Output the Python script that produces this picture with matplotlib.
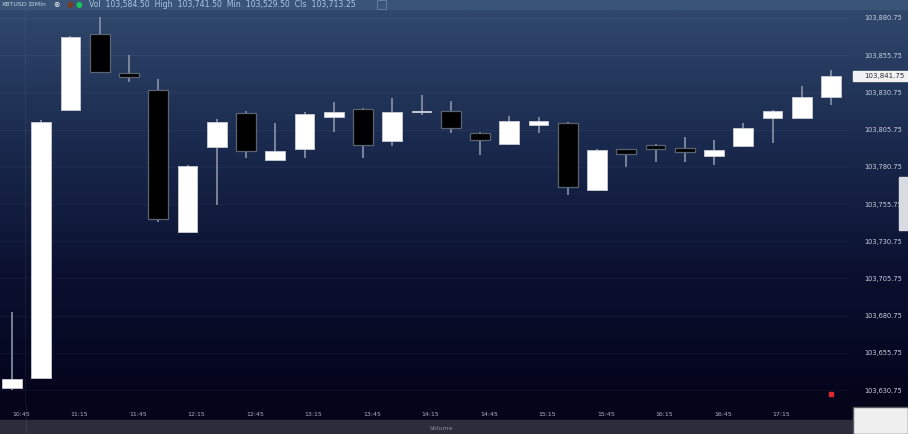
import numpy as np
import matplotlib.pyplot as plt
from matplotlib.colors import LinearSegmentedColormap
from matplotlib.patches import Rectangle

# 15 min candles
opens = [103632.00, 103638.75, 103819.00, 103870.00, 103843.75, 103832.50, 103737.00,
         103794.00, 103817.00, 103785.25, 103792.75, 103814.25, 103819.50, 103798.00,
         103817.50, 103818.25, 103803.50, 103796.00, 103808.75, 103810.25, 103765.25,
         103792.75, 103795.50, 103793.50, 103788.00, 103794.75, 103813.50, 103813.50,
         103827.75]
closes = [103638.25, 103811.00, 103868.00, 103844.50, 103841.00, 103745.75, 103781.25,
          103811.00, 103791.50, 103791.50, 103816.25, 103817.50, 103795.50, 103817.50,
          103817.75, 103806.75, 103798.75, 103811.50, 103811.50, 103767.25, 103792.00,
          103789.25, 103792.75, 103790.75, 103792.00, 103806.75, 103818.25, 103827.75,
          103841.75]
highs = [103683.25, 103812.25, 103868.75, 103881.50, 103856.00, 103839.75, 103782.00,
         103813.00, 103818.25, 103810.25, 103817.50, 103824.25, 103820.25, 103827.00,
         103829.00, 103825.00, 103804.25, 103815.00, 103814.25, 103811.00, 103792.75,
         103792.75, 103796.00, 103800.75, 103798.75, 103810.25, 103819.00, 103835.00,
         103845.75]
lows = [103630.75, 103638.75, 103818.25, 103843.75, 103837.75, 103743.75, 103736.25,
        103755.00, 103786.75, 103784.75, 103786.75, 103804.25, 103786.75, 103794.75,
        103815.50, 103803.50, 103788.75, 103795.50, 103803.50, 103761.75, 103764.50,
        103780.75, 103784.00, 103784.00, 103782.00, 103794.00, 103796.75, 103813.00,
        103822.25]

time_labels = ['10:45', '11:15', '11:45', '12:15', '12:45', '13:15', '13:45',
               '14:15', '14:45', '15:15', '15:45', '16:15', '16:45', '17:15']
price_ticks = [103880.75 - 25 * i for i in range(11)]
last_price = closes[-1]
alert_price = 103628.0

W, H = 908, 434
fig = plt.figure(figsize=(W / 100, H / 100), dpi=100)
fig.patch.set_facecolor('#05051a')

# background gradient behind everything
bg = fig.add_axes([0, (H - 405) / H, 1, 395 / H], zorder=0)
cmap = LinearSegmentedColormap.from_list('bg', ['#2f486c', '#1a2a4e', '#0b1030', '#04041a'])
bg.imshow(np.linspace(0, 1, 256).reshape(-1, 1), aspect='auto', cmap=cmap,
          extent=[0, 1, 0, 1])
bg.axis('off')

ax = fig.add_axes([0, (H - 405) / H, 848 / W, 395 / H], zorder=2)
ax.patch.set_alpha(0)

x = np.arange(len(opens))
o = np.array(opens)
c = np.array(closes)
up = c >= o
body_lo = np.minimum(o, c)
body_h = np.maximum(np.abs(c - o), 0.8)

ax.vlines(x, lows, highs, color='#8a93a8', linewidth=1.2, zorder=2)
ax.bar(x[up], body_h[up], bottom=body_lo[up], width=0.68, color='white',
       edgecolor='#c8ccd6', linewidth=0.6, zorder=3)
ax.bar(x[~up], body_h[~up], bottom=body_lo[~up], width=0.68, color='black',
       edgecolor='#5b6272', linewidth=0.9, zorder=3)
ax.plot([x[-1]], [alert_price], marker='s', markersize=2.5, color='#e0282c',
        linestyle='none', zorder=4)

ax.set_xlim(-0.41, 28.58)
ax.set_ylim(103620.7, 103886.1)
ax.set_yticks(price_ticks)
ax.set_yticklabels([f'{p:,.2f}' for p in price_ticks])
ax.yaxis.tick_right()
ax.tick_params(axis='y', length=0, pad=12, labelsize=4.8, labelcolor='#c9d0dc')
ax.set_xticks([])
ax.grid(axis='y', color='#ffffff', alpha=0.04, linewidth=0.8)
ax.axvline(0.45, color='#ffffff', alpha=0.06, linewidth=0.8)
for s in ax.spines.values():
    s.set_visible(False)

# time labels under the candles
for i, lab in enumerate(time_labels):
    xp = (12 + 2 * i * 29.25) / W
    fig.text(xp, 1 - 414 / H, lab, fontsize=4.5, color='#aab0c0', ha='left', va='center')

# header bar
fig.patches.append(Rectangle((0, 1 - 9 / H), 1, 9 / H, transform=fig.transFigure,
                             color='#3a5478', zorder=1))
fig.text(2 / W, 1 - 4.5 / H, 'XBTUSD', fontsize=4.5, color='#c8d4e6', va='center')
fig.text(27 / W, 1 - 4.5 / H, '15Min', fontsize=4.5, color='#c8d4e6', va='center')
fig.text(53 / W, 1 - 4.5 / H, '\u2297', fontsize=5.5, color='white', va='center')
fig.text(67 / W, 1 - 4.5 / H, '\u25cf', fontsize=5.5, color='#7a3a20', va='center')
fig.text(76 / W, 1 - 4.5 / H, '\u25cf', fontsize=5.5, color='#19c45a', va='center')
fig.text(89 / W, 1 - 4.5 / H,
         'Vol  103,584.50  High  103,741.50  Min  103,529.50  Cls  103,713.25',
         fontsize=5.6, color='#a9c4e4', va='center')
fig.patches.append(Rectangle((377 / W, 1 - 9 / H), 9 / W, 9 / H, transform=fig.transFigure,
                             facecolor='#3a5478', edgecolor='#6d82a0', linewidth=0.6, zorder=2))

# current price tag
yy = ax.transData.transform((0, last_price))[1] / H
fig.patches.append(Rectangle((853 / W, yy - 5 / H), 55 / W, 10 / H, transform=fig.transFigure,
                             color='#f2f2f2', zorder=3))
fig.text(864 / W, yy, f'{last_price:,.2f}', fontsize=5, color='#2a2a36', va='center', zorder=4)

# scroll handle and bottom widgets
fig.patches.append(Rectangle((899 / W, 1 - 230 / H), 9 / W, 53 / H, transform=fig.transFigure,
                             color='#d8dbe2', zorder=3))
fig.patches.append(Rectangle((0, 0), 1, 14 / H, transform=fig.transFigure,
                             color='#2c2c3a', zorder=1))
fig.text(430 / W, 6 / H, 'Volume', fontsize=4.5, color='#8c8c9c', va='center')
fig.patches.append(Rectangle((853 / W, 0), 55 / W, 27 / H, transform=fig.transFigure,
                             facecolor='#efefef', edgecolor='#5a5a66', linewidth=1, zorder=3))
fig.lines.append(plt.Line2D([26 / W, 26 / W], [0, 1 - 405 / H], transform=fig.transFigure,
                            color='#ffffff', alpha=0.08, linewidth=0.8))

fig.savefig('out.png', dpi=100, facecolor=fig.get_facecolor())
